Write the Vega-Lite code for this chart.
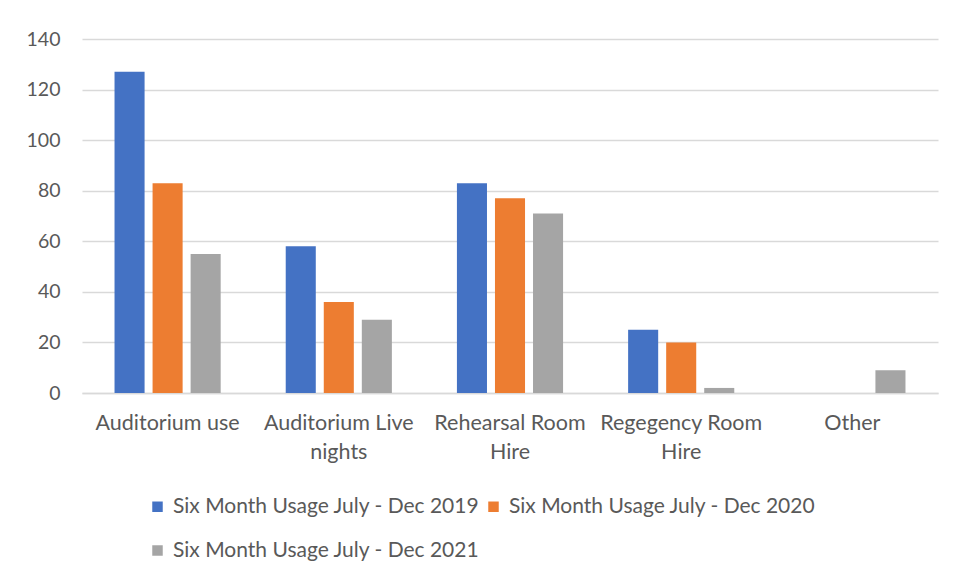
{
  "$schema": "https://vega.github.io/schema/vega-lite/v6.json",
  "width": 856,
  "height": 354,
  "autosize": {"type": "none"},
  "padding": {"left": 82, "top": 39, "right": 16, "bottom": 185},
  "background": "white",
  "data": {
    "values": [
      {"category": "Auditorium use", "series": "Six Month Usage July - Dec 2019", "value": 127},
      {"category": "Auditorium use", "series": "Six Month Usage July - Dec 2020", "value": 83},
      {"category": "Auditorium use", "series": "Six Month Usage July - Dec 2021", "value": 55},
      {"category": "Auditorium Live nights", "series": "Six Month Usage July - Dec 2019", "value": 58},
      {"category": "Auditorium Live nights", "series": "Six Month Usage July - Dec 2020", "value": 36},
      {"category": "Auditorium Live nights", "series": "Six Month Usage July - Dec 2021", "value": 29},
      {"category": "Rehearsal Room Hire", "series": "Six Month Usage July - Dec 2019", "value": 83},
      {"category": "Rehearsal Room Hire", "series": "Six Month Usage July - Dec 2020", "value": 77},
      {"category": "Rehearsal Room Hire", "series": "Six Month Usage July - Dec 2021", "value": 71},
      {"category": "Regegency Room Hire", "series": "Six Month Usage July - Dec 2019", "value": 25},
      {"category": "Regegency Room Hire", "series": "Six Month Usage July - Dec 2020", "value": 20},
      {"category": "Regegency Room Hire", "series": "Six Month Usage July - Dec 2021", "value": 2},
      {"category": "Other", "series": "Six Month Usage July - Dec 2019", "value": 0},
      {"category": "Other", "series": "Six Month Usage July - Dec 2020", "value": 0},
      {"category": "Other", "series": "Six Month Usage July - Dec 2021", "value": 9}
    ]
  },
  "mark": {"type": "bar"},
  "encoding": {
    "x": {
      "field": "category",
      "type": "nominal",
      "sort": null,
      "title": null,
      "scale": {"paddingInner": 0.38, "paddingOuter": 0.19},
      "axis": {
        "labelAngle": 0,
        "labelFont": "Lato",
        "labelFontSize": 21.5,
        "labelColor": "#595959",
        "labelPadding": 19,
        "labelLineHeight": 29,
        "labelBaseline": "top",
        "ticks": false,
        "domainColor": "#d9d9d9",
        "domainWidth": 1.5,
        "labelExpr": "datum.value == 'Auditorium Live nights' ? ['Auditorium Live', 'nights'] : datum.value == 'Rehearsal Room Hire' ? ['Rehearsal Room', 'Hire'] : datum.value == 'Regegency Room Hire' ? ['Regegency Room', 'Hire'] : datum.value"
      }
    },
    "xOffset": {
      "field": "series",
      "type": "nominal",
      "scale": {"paddingInner": 0.21, "paddingOuter": 0}
    },
    "y": {
      "field": "value",
      "type": "quantitative",
      "title": null,
      "scale": {"domain": [0, 140], "nice": false},
      "axis": {
        "values": [0, 20, 40, 60, 80, 100, 120, 140],
        "labelFont": "Lato",
        "labelFontSize": 19.5,
        "labelColor": "#595959",
        "labelPadding": 22,
        "ticks": false,
        "domain": false,
        "gridColor": "#d9d9d9",
        "gridWidth": 1.5
      }
    },
    "color": {
      "field": "series",
      "type": "nominal",
      "scale": {"range": ["#4472c4", "#ed7d31", "#a5a5a5"]},
      "legend": {
        "title": null,
        "orient": "none",
        "legendX": 65,
        "legendY": 457,
        "direction": "horizontal",
        "columns": 2,
        "columnPadding": 3,
        "rowPadding": 22,
        "symbolType": "square",
        "symbolSize": 110,
        "symbolStrokeWidth": 0,
        "symbolOffset": 0,
        "labelFont": "Lato",
        "labelFontSize": 21,
        "labelColor": "#595959",
        "labelOffset": 5,
        "labelLimit": 400
      }
    }
  },
  "config": {
    "view": {"stroke": null}
  }
}
